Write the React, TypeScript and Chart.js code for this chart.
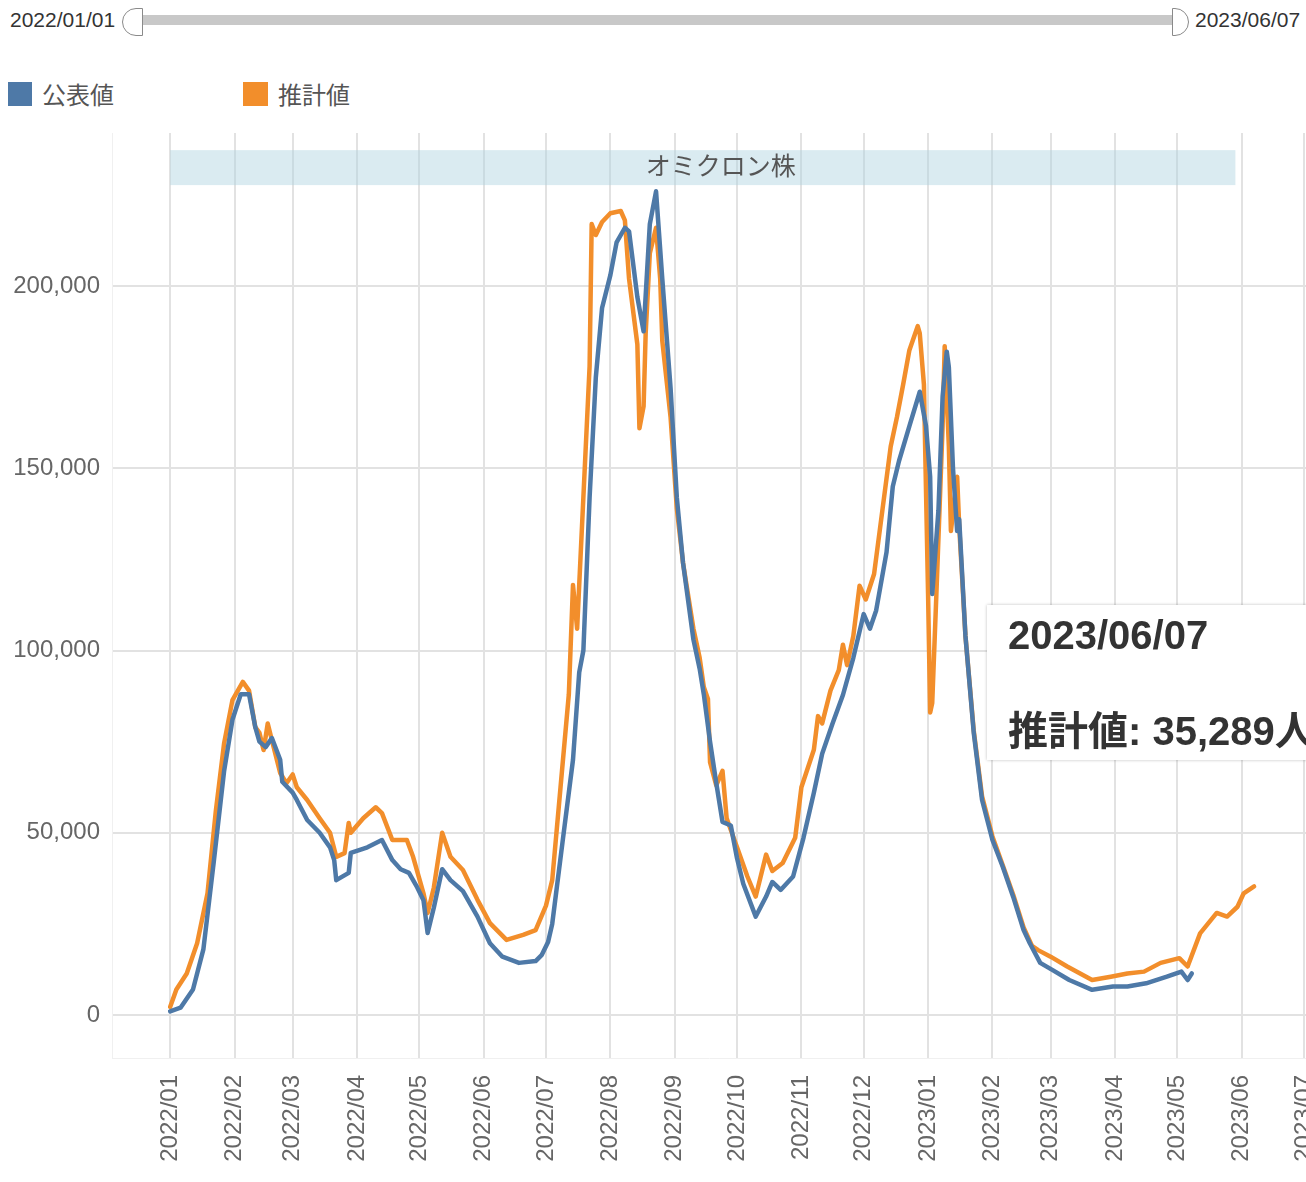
import React, { useEffect, useRef } from 'react';
import { Chart, registerables } from 'chart.js';

Chart.register(...registerables);

// ---------- data ----------
const publishedLabel = '公表値';
const estimatedLabel = '推計値';

const publishedDates = [
  '2022/01/01', '2022/01/06', '2022/01/12', '2022/01/17', '2022/01/22', '2022/01/27', '2022/01/31',
  '2022/02/04', '2022/02/08', '2022/02/11', '2022/02/13', '2022/02/16', '2022/02/19', '2022/02/23',
  '2022/02/24', '2022/03/01', '2022/03/03', '2022/03/08', '2022/03/14', '2022/03/19', '2022/03/21',
  '2022/03/22', '2022/03/28', '2022/03/29', '2022/04/06', '2022/04/13', '2022/04/18', '2022/04/22',
  '2022/04/26', '2022/04/30', '2022/05/03', '2022/05/05', '2022/05/08', '2022/05/12', '2022/05/16',
  '2022/05/22', '2022/05/29', '2022/06/04', '2022/06/10', '2022/06/18', '2022/06/26', '2022/06/29',
  '2022/07/02', '2022/07/04', '2022/07/09', '2022/07/14', '2022/07/17', '2022/07/19', '2022/07/22',
  '2022/07/25', '2022/07/28', '2022/08/01', '2022/08/04', '2022/08/08', '2022/08/10', '2022/08/14',
  '2022/08/17', '2022/08/20', '2022/08/23', '2022/08/26', '2022/08/30', '2022/09/02', '2022/09/05',
  '2022/09/10', '2022/09/13', '2022/09/15', '2022/09/18', '2022/09/21', '2022/09/24', '2022/09/28',
  '2022/10/01', '2022/10/04', '2022/10/10', '2022/10/15', '2022/10/18', '2022/10/22', '2022/10/28',
  '2022/11/02', '2022/11/07', '2022/11/11', '2022/11/16', '2022/11/21', '2022/11/26', '2022/12/01',
  '2022/12/04', '2022/12/07', '2022/12/12', '2022/12/15', '2022/12/18', '2022/12/23', '2022/12/28',
  '2022/12/31', '2023/01/02', '2023/01/03', '2023/01/06', '2023/01/08', '2023/01/10', '2023/01/11',
  '2023/01/13', '2023/01/15', '2023/01/16', '2023/01/19', '2023/01/23', '2023/01/27', '2023/02/01',
  '2023/02/06', '2023/02/11', '2023/02/16', '2023/02/19', '2023/02/24', '2023/03/02', '2023/03/10',
  '2023/03/21', '2023/03/31', '2023/04/07', '2023/04/16', '2023/04/26', '2023/05/03', '2023/05/06',
  '2023/05/08',
];
const publishedValues = [
  1000, 2000, 7000, 18000, 42000, 67000, 81000,
  88000, 88000, 79000, 75000, 73500, 76000, 70000,
  64000, 61000, 59000, 53500, 50000, 46000, 42500,
  37000, 39000, 44500, 46000, 48000, 42500, 40000,
  39000, 35000, 31500, 22500, 29500, 40000, 37000,
  34000, 27000, 19700, 16000, 14300, 14800, 16500,
  20000, 25000, 47600, 70000, 94000, 100000, 142000,
  175000, 194000, 203000, 212000, 216000, 215000, 197000,
  187600, 217000, 226000, 202000, 172000, 142000, 124000,
  103000, 95000, 88000, 75000, 63600, 53000, 52000,
  43000, 36000, 27000, 32500, 36500, 34300, 38000,
  48600, 61000, 71700, 80000, 87800, 98000, 110000,
  106000, 111000, 127000, 145000, 152000, 161600, 171000,
  161600, 147700, 115500, 138500, 169700, 182000, 177800,
  150000, 132800, 136000, 104000, 77400, 59000, 48000,
  40600, 32400, 23300, 19700, 14300, 12300, 9600,
  6900, 7800, 7800, 8700, 10500, 11900, 9600,
  11400,
];

const estimatedDates = [
  '2022/01/01', '2022/01/04', '2022/01/09', '2022/01/14', '2022/01/19', '2022/01/23', '2022/01/27',
  '2022/01/31', '2022/02/05', '2022/02/08', '2022/02/11', '2022/02/13', '2022/02/15', '2022/02/17',
  '2022/02/19', '2022/02/23', '2022/02/26', '2022/03/01', '2022/03/03', '2022/03/08', '2022/03/14',
  '2022/03/19', '2022/03/22', '2022/03/26', '2022/03/28', '2022/03/29', '2022/04/04', '2022/04/10',
  '2022/04/13', '2022/04/18', '2022/04/25', '2022/04/28', '2022/05/03', '2022/05/05', '2022/05/08',
  '2022/05/12', '2022/05/16', '2022/05/22', '2022/05/29', '2022/06/04', '2022/06/12', '2022/06/20',
  '2022/06/26', '2022/07/01', '2022/07/04', '2022/07/08', '2022/07/12', '2022/07/14', '2022/07/16',
  '2022/07/19', '2022/07/22', '2022/07/23', '2022/07/25', '2022/07/28', '2022/08/01', '2022/08/06',
  '2022/08/08', '2022/08/10', '2022/08/14', '2022/08/15', '2022/08/17', '2022/08/18', '2022/08/20',
  '2022/08/23', '2022/08/25', '2022/08/26', '2022/08/30', '2022/09/02', '2022/09/05', '2022/09/10',
  '2022/09/13', '2022/09/15', '2022/09/17', '2022/09/18', '2022/09/21', '2022/09/24', '2022/09/26',
  '2022/10/01', '2022/10/06', '2022/10/10', '2022/10/15', '2022/10/18', '2022/10/23', '2022/10/29',
  '2022/11/01', '2022/11/07', '2022/11/09', '2022/11/11', '2022/11/15', '2022/11/19', '2022/11/21',
  '2022/11/23', '2022/11/26', '2022/11/29', '2022/12/02', '2022/12/06', '2022/12/10', '2022/12/14',
  '2022/12/17', '2022/12/20', '2022/12/23', '2022/12/27', '2022/12/28', '2022/12/30', '2022/12/31',
  '2023/01/01', '2023/01/02', '2023/01/03', '2023/01/05', '2023/01/08', '2023/01/09', '2023/01/11',
  '2023/01/12', '2023/01/15', '2023/01/16', '2023/01/19', '2023/01/23', '2023/01/27', '2023/02/01',
  '2023/02/06', '2023/02/11', '2023/02/16', '2023/02/20', '2023/02/23', '2023/03/01', '2023/03/09',
  '2023/03/21', '2023/03/30', '2023/04/07', '2023/04/15', '2023/04/23', '2023/05/02', '2023/05/06',
  '2023/05/12', '2023/05/20', '2023/05/25', '2023/05/30', '2023/06/02', '2023/06/07',
];
const estimatedValues = [
  2200, 7000, 11400, 19700, 33400, 56000, 74600,
  86400, 91400, 89000, 79000, 77400, 72700, 80000,
  75400, 66400, 63600, 66000, 62500, 59000, 54000,
  50000, 43400, 44400, 52700, 50000, 54000, 57000,
  55400, 48000, 48000, 43400, 33400, 28000, 35000,
  50000, 43400, 39800, 31600, 25200, 20600, 22000,
  23300, 30000, 37000, 62500, 88000, 118000, 106000,
  142000, 178000, 217000, 214000, 217600, 220000, 220600,
  218000, 202000, 184000, 161000, 167000, 187000, 209000,
  216000, 202000, 185000, 164000, 139000, 124000, 106000,
  98000, 90000, 86700, 69400, 63000, 67000, 54000,
  46000, 38000, 32500, 44000, 39500, 41700, 48600,
  62500, 72800, 82000, 80000, 89000, 94600, 101600,
  96000, 104000, 117800, 114000, 121000, 138500, 156000,
  164000, 173000, 182400, 189000, 187000, 173000, 144000,
  115500, 83000, 85600, 115500, 161600, 183500, 156000,
  132800, 147700, 134000, 104000, 78000, 60000, 49000,
  41000, 33000, 24000, 19000, 17800, 16000, 13300,
  9600, 10500, 11400, 11900, 14300, 15600, 13300,
  22400, 28000, 27000, 29700, 33400, 35289,
];

const monthTicks = [
  '2022/01', '2022/02', '2022/03', '2022/04', '2022/05', '2022/06', '2022/07', '2022/08', '2022/09',
  '2022/10', '2022/11', '2022/12', '2023/01', '2023/02', '2023/03', '2023/04', '2023/05', '2023/06', '2023/07',
];
const yTicks = [0, 50000, 100000, 150000, 200000];

const bandLabel = 'オミクロン株';
const bandStart = '2022/01/01';
const bandEnd = '2023/05/29';
const bandTopValue = 237300;
const bandBottomValue = 227700;

const rangeStart = '2022/01/01';
const rangeEnd = '2023/06/07';

// ---------- helpers ----------
const BASE = Date.UTC(2022, 0, 1);
const dayOf = (s: string) => {
  const [y, m, d] = s.split('/').map(Number);
  return (Date.UTC(y, m - 1, d || 1) - BASE) / 86400000;
};

const BLUE = '#4E79A7';
const ORANGE = '#F28E2B';
const FONT = '"Liberation Sans", "Noto Sans CJK JP", Arial, sans-serif';

const bandPlugin = {
  id: 'omicronBand',
  beforeDatasetsDraw(chart: any) {
    const { ctx, scales } = chart;
    const x = scales.x;
    const y = scales.y;
    const x0 = x.getPixelForValue(dayOf(bandStart));
    const x1 = x.getPixelForValue(dayOf(bandEnd));
    const y0 = y.getPixelForValue(bandTopValue);
    const y1 = y.getPixelForValue(bandBottomValue);
    ctx.save();
    ctx.fillStyle = 'rgba(173, 210, 224, 0.45)';
    ctx.fillRect(x0, y0, x1 - x0, y1 - y0);
    ctx.fillStyle = '#555';
    ctx.font = `25px ${FONT}`;
    ctx.textAlign = 'center';
    ctx.textBaseline = 'middle';
    ctx.fillText(bandLabel, (x0 + x1) / 2 + 18, (y0 + y1) / 2);
    ctx.restore();
  },
};

export default function App() {
  const canvasRef = useRef<HTMLCanvasElement>(null);

  useEffect(() => {
    const canvas = canvasRef.current;
    if (!canvas) return;
    Chart.defaults.font.family = FONT;
    const chart = new Chart(canvas, {
      type: 'line',
      data: {
        datasets: [
          {
            label: publishedLabel,
            data: publishedDates.map((d, i) => ({ x: dayOf(d), y: publishedValues[i] })),
            borderColor: BLUE,
            backgroundColor: BLUE,
            borderWidth: 4.5,
            pointRadius: 0,
            tension: 0,
            borderJoinStyle: 'round',
            borderCapStyle: 'round',
          },
          {
            label: estimatedLabel,
            data: estimatedDates.map((d, i) => ({ x: dayOf(d), y: estimatedValues[i] })),
            borderColor: ORANGE,
            backgroundColor: ORANGE,
            borderWidth: 4.5,
            pointRadius: 0,
            tension: 0,
            borderJoinStyle: 'round',
            borderCapStyle: 'round',
          },
        ],
      },
      options: {
        animation: false,
        responsive: false,
        maintainAspectRatio: false,
        layout: { padding: { top: 13, left: 0, right: 0, bottom: 0 } },
        plugins: {
          legend: { display: false },
          tooltip: { enabled: false },
        },
        scales: {
          x: {
            type: 'linear',
            min: -28,
            max: 547,
            grid: { color: '#e2e2e2', lineWidth: 2, drawTicks: false },
            border: { display: true, color: '#f0f0f0', width: 1 },
            afterBuildTicks: (scale: any) => {
              scale.ticks = monthTicks.map((m) => ({ value: dayOf(m + '/01') }));
            },
            afterFit: (scale: any) => {
              scale.height = 124;
              scale.paddingLeft = 0;
              scale.paddingRight = 0;
            },
            ticks: {
              autoSkip: false,
              minRotation: 90,
              maxRotation: 90,
              padding: 17,
              color: '#666',
              font: { size: 24, family: FONT },
              callback: (_v: any, i: number) => monthTicks[i],
            },
          },
          y: {
            type: 'linear',
            min: -11800,
            max: 242000,
            grid: { color: '#e2e2e2', lineWidth: 2, drawTicks: false },
            border: { display: true, color: '#f0f0f0', width: 1 },
            afterBuildTicks: (scale: any) => {
              scale.ticks = yTicks.map((v) => ({ value: v }));
            },
            afterFit: (scale: any) => {
              scale.width = 112;
              scale.paddingTop = 0;
              scale.paddingBottom = 0;
            },
            ticks: {
              padding: 12,
              color: '#666',
              font: { size: 24, family: FONT },
              callback: (v: any) => Number(v).toLocaleString('en-US'),
            },
          },
        },
      },
      plugins: [bandPlugin],
    } as any);
    return () => chart.destroy();
  }, []);

  const lastIdx = estimatedValues.length - 1;

  return (
    <div
      style={{
        position: 'absolute',
        left: 0,
        top: 0,
        width: 1306,
        height: 1182,
        overflow: 'hidden',
        background: '#fff',
        fontFamily: FONT,
      }}
    >
      {/* range slider */}
      <div style={{ position: 'absolute', left: 10, top: 8, fontSize: 21, lineHeight: '24px', color: '#333' }}>
        {rangeStart}
      </div>
      <div
        style={{
          position: 'absolute',
          left: 142,
          top: 15,
          width: 1030,
          height: 10,
          background: '#c8c8c8',
        }}
      />
      <div
        style={{
          position: 'absolute',
          left: 122,
          top: 8,
          width: 19,
          height: 26,
          background: '#fff',
          border: '1.5px solid #8a8a8a',
          borderRadius: '14px 0 0 14px',
        }}
      />
      <div
        style={{
          position: 'absolute',
          left: 1172,
          top: 8,
          width: 15,
          height: 26,
          background: '#fff',
          border: '1.5px solid #8a8a8a',
          borderRadius: '0 14px 14px 0',
        }}
      />
      <div style={{ position: 'absolute', left: 1195, top: 8, fontSize: 21, lineHeight: '24px', color: '#333' }}>
        {rangeEnd}
      </div>

      {/* legend */}
      <div style={{ position: 'absolute', left: 8, top: 82, width: 24, height: 24, background: BLUE }} />
      <div style={{ position: 'absolute', left: 42, top: 82, fontSize: 24, lineHeight: '28px', color: '#555' }}>
        {publishedLabel}
      </div>
      <div style={{ position: 'absolute', left: 243, top: 82, width: 25, height: 24, background: ORANGE }} />
      <div style={{ position: 'absolute', left: 278, top: 82, fontSize: 24, lineHeight: '28px', color: '#555' }}>
        {estimatedLabel}
      </div>

      {/* chart */}
      <div style={{ position: 'absolute', left: 0, top: 120, width: 1306, height: 1062 }}>
        <canvas ref={canvasRef} width={1306} height={1062} style={{ display: 'block' }} />
      </div>

      {/* hover tooltip */}
      <div
        style={{
          position: 'absolute',
          left: 987,
          top: 605,
          width: 400,
          height: 155,
          background: '#fff',
          boxShadow: '0 0 3px rgba(0,0,0,0.25)',
          color: '#333',
          fontWeight: 'bold',
        }}
      >
        <div style={{ position: 'absolute', left: 21, top: 10, fontSize: 40, lineHeight: '40px', whiteSpace: 'nowrap' }}>
          {estimatedDates[lastIdx]}
        </div>
        <div style={{ position: 'absolute', left: 21, top: 106, fontSize: 40, lineHeight: '40px', whiteSpace: 'nowrap' }}>
          {`${estimatedLabel}: ${estimatedValues[lastIdx].toLocaleString('en-US')}人`}
        </div>
      </div>
    </div>
  );
}
